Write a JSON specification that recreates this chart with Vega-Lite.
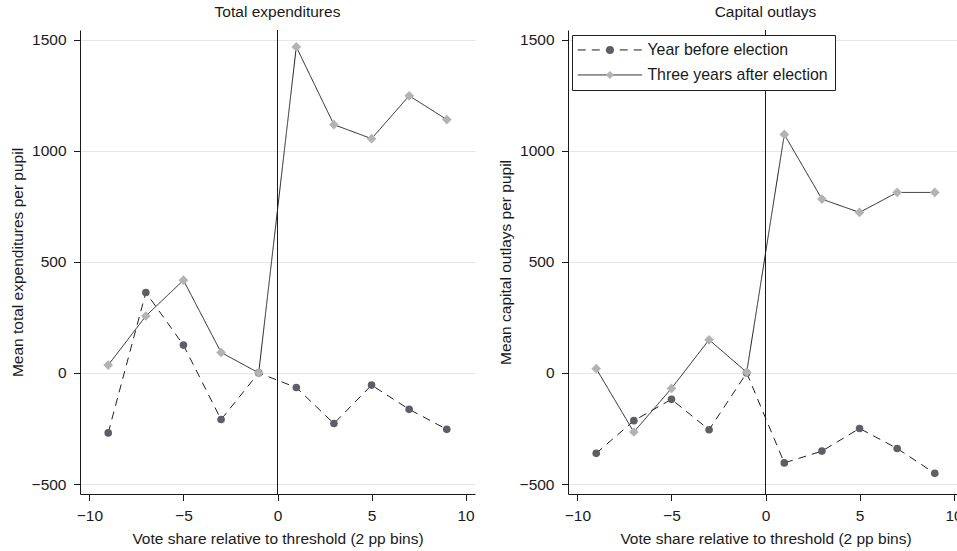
{
  "$schema": "https://vega.github.io/schema/vega-lite/v6.json",
  "padding": {"left": 10, "top": 5, "right": 0, "bottom": 0},
  "background": "white",
  "datasets": {
    "exp": [
      {"bin": -9, "value": -270, "series": "Year before election"},
      {"bin": -7, "value": 362, "series": "Year before election"},
      {"bin": -5, "value": 125, "series": "Year before election"},
      {"bin": -3, "value": -210, "series": "Year before election"},
      {"bin": -1, "value": 0, "series": "Year before election"},
      {"bin": 1, "value": -66, "series": "Year before election"},
      {"bin": 3, "value": -228, "series": "Year before election"},
      {"bin": 5, "value": -55, "series": "Year before election"},
      {"bin": 7, "value": -164, "series": "Year before election"},
      {"bin": 9, "value": -254, "series": "Year before election"},
      {"bin": -9, "value": 35, "series": "Three years after election"},
      {"bin": -7, "value": 256, "series": "Three years after election"},
      {"bin": -5, "value": 417, "series": "Three years after election"},
      {"bin": -3, "value": 92, "series": "Three years after election"},
      {"bin": -1, "value": 0, "series": "Three years after election"},
      {"bin": 1, "value": 1467, "series": "Three years after election"},
      {"bin": 3, "value": 1117, "series": "Three years after election"},
      {"bin": 5, "value": 1054, "series": "Three years after election"},
      {"bin": 7, "value": 1247, "series": "Three years after election"},
      {"bin": 9, "value": 1140, "series": "Three years after election"}
    ],
    "cap": [
      {"bin": -9, "value": -362, "series": "Year before election"},
      {"bin": -7, "value": -215, "series": "Year before election"},
      {"bin": -5, "value": -119, "series": "Year before election"},
      {"bin": -3, "value": -256, "series": "Year before election"},
      {"bin": -1, "value": 0, "series": "Year before election"},
      {"bin": 1, "value": -405, "series": "Year before election"},
      {"bin": 3, "value": -352, "series": "Year before election"},
      {"bin": 5, "value": -250, "series": "Year before election"},
      {"bin": 7, "value": -340, "series": "Year before election"},
      {"bin": 9, "value": -452, "series": "Year before election"},
      {"bin": -9, "value": 19, "series": "Three years after election"},
      {"bin": -7, "value": -266, "series": "Three years after election"},
      {"bin": -5, "value": -70, "series": "Three years after election"},
      {"bin": -3, "value": 149, "series": "Three years after election"},
      {"bin": -1, "value": 3, "series": "Three years after election"},
      {"bin": 1, "value": 1073, "series": "Three years after election"},
      {"bin": 3, "value": 782, "series": "Three years after election"},
      {"bin": 5, "value": 722, "series": "Three years after election"},
      {"bin": 7, "value": 812, "series": "Three years after election"},
      {"bin": 9, "value": 812, "series": "Three years after election"}
    ]
  },
  "config": {
    "font": "Liberation Sans",
    "view": {"stroke": null},
    "title": {"font": "Liberation Sans", "fontSize": 15.5, "fontWeight": "normal", "color": "#1a1a1a", "offset": 9},
    "axis": {
      "labelFont": "Liberation Sans", "titleFont": "Liberation Sans",
      "labelFontSize": 15.5, "titleFontSize": 15.5, "titleFontWeight": "normal",
      "labelColor": "#1a1a1a", "titleColor": "#1a1a1a",
      "domainColor": "#1a1a1a", "tickColor": "#1a1a1a",
      "tickSize": 6.5, "labelPadding": 7.5, "gridColor": "#e6e6e6",
      "labelFlush": false, "format": "d"
    },
    "axisX": {"grid": false, "titlePadding": 8},
    "axisY": {"grid": true, "titlePadding": 6},
    "legend": {"labelFont": "Liberation Sans", "labelLimit": 0}
  },
  "spacing": 23,
  "resolve": {
    "scale": {"color": "independent", "shape": "independent", "strokeDash": "independent"},
    "legend": {"color": "independent", "shape": "independent", "strokeDash": "independent"}
  },
  "hconcat": [
    {
      "width": 395,
      "height": 464,
      "title": "Total expenditures",
      "data": {"name": "exp"},
      "encoding": {
        "x": {"field": "bin", "type": "quantitative", "scale": {"domain": [-10.5, 10.5], "nice": false, "zero": false}, "axis": {"values": [-10, -5, 0, 5, 10], "title": "Vote share relative to threshold (2 pp bins)"}},
        "y": {"field": "value", "type": "quantitative", "scale": {"domain": [-545, 1543], "nice": false, "zero": false}, "axis": {"values": [-500, 0, 500, 1000, 1500], "title": "Mean total expenditures per pupil"}}
      },
      "layer": [
        {"mark": {"type": "rule", "color": "#1a1a1a", "strokeWidth": 1}, "encoding": {"x": {"datum": 0}, "y": null}},
        {"mark": {"type": "line", "color": "#1f1f1f", "strokeWidth": 1},
         "encoding": {"strokeDash": {"field": "series", "type": "nominal", "sort": "descending", "scale": {"range": [[8, 6], [1, 0]]}, "legend": null}}},
        {"transform": [{"filter": "datum.series == 'Year before election'"}],
         "mark": {"type": "point", "filled": true, "opacity": 1, "strokeWidth": 0, "size": 58},
         "encoding": {
           "shape": {"field": "series", "type": "nominal", "scale": {"domain": ["Year before election", "Three years after election"], "range": ["circle", "diamond"]}, "legend": null},
           "color": {"field": "series", "type": "nominal", "scale": {"domain": ["Year before election", "Three years after election"], "range": ["#5e5f66", "#b3b3b3"]}, "legend": null}
         }},
        {"transform": [{"filter": "datum.series == 'Three years after election'"}],
         "mark": {"type": "point", "filled": true, "opacity": 1, "strokeWidth": 0, "size": 95},
         "encoding": {
           "shape": {"field": "series", "type": "nominal", "scale": {"domain": ["Year before election", "Three years after election"], "range": ["circle", "diamond"]}, "legend": null},
           "color": {"field": "series", "type": "nominal", "scale": {"domain": ["Year before election", "Three years after election"], "range": ["#5e5f66", "#b3b3b3"]}, "legend": null}
         }}
      ]
    },
    {
      "width": 395,
      "height": 464,
      "title": "Capital outlays",
      "data": {"name": "cap"},
      "encoding": {
        "x": {"field": "bin", "type": "quantitative", "scale": {"domain": [-10.5, 10.5], "nice": false, "zero": false}, "axis": {"values": [-10, -5, 0, 5, 10], "title": "Vote share relative to threshold (2 pp bins)"}},
        "y": {"field": "value", "type": "quantitative", "scale": {"domain": [-545, 1543], "nice": false, "zero": false}, "axis": {"values": [-500, 0, 500, 1000, 1500], "title": "Mean capital outlays per pupil"}}
      },
      "layer": [
        {"mark": {"type": "rule", "color": "#1a1a1a", "strokeWidth": 1}, "encoding": {"x": {"datum": 0}, "y": null}},
        {"mark": {"type": "line", "color": "#1f1f1f", "strokeWidth": 1},
         "encoding": {"strokeDash": {"field": "series", "type": "nominal", "sort": "descending", "scale": {"range": [[8, 6], [1, 0]]},
           "legend": {"orient": "none", "legendX": 4, "legendY": 5, "title": null, "padding": 7, "rowPadding": 8, "symbolType": "M-6.44,0L6.44,0", "symbolSize": 100, "symbolStrokeWidth": 1, "symbolStrokeColor": "#1f1f1f", "symbolOffset": 23, "labelOffset": 29.5, "labelFontSize": 15.9, "labelColor": "#1a1a1a", "strokeColor": "#1f1f1f", "fillColor": "white"}}}},
        {"transform": [{"filter": "datum.series == 'Year before election'"}],
         "mark": {"type": "point", "filled": true, "opacity": 1, "strokeWidth": 0, "size": 58},
         "encoding": {
           "shape": {"field": "series", "type": "nominal", "scale": {"domain": ["Year before election", "Three years after election"], "range": ["circle", "diamond"]},
             "legend": {"orient": "none", "legendX": 4, "legendY": 5, "title": null, "padding": 7, "rowPadding": 8, "symbolSize": 64, "symbolStrokeWidth": 0, "symbolOffset": 23, "labelOffset": 29.5, "labelFontSize": 15.9, "labelOpacity": 0, "symbolOpacity": 1}},
           "color": {"field": "series", "type": "nominal", "scale": {"domain": ["Year before election", "Three years after election"], "range": ["#5e5f66", "#b3b3b3"]},
             "legend": {"orient": "none", "legendX": 4, "legendY": 5, "title": null, "padding": 7, "rowPadding": 8, "symbolSize": 64, "symbolStrokeWidth": 0, "symbolOffset": 23, "labelOffset": 29.5, "labelFontSize": 15.9, "labelOpacity": 0, "symbolOpacity": 1}}
         }},
        {"transform": [{"filter": "datum.series == 'Three years after election'"}],
         "mark": {"type": "point", "filled": true, "opacity": 1, "strokeWidth": 0, "size": 95},
         "encoding": {
           "shape": {"field": "series", "type": "nominal", "scale": {"domain": ["Year before election", "Three years after election"], "range": ["circle", "diamond"]},
             "legend": {"orient": "none", "legendX": 4, "legendY": 5, "title": null, "padding": 7, "rowPadding": 8, "symbolSize": 64, "symbolStrokeWidth": 0, "symbolOffset": 23, "labelOffset": 29.5, "labelFontSize": 15.9, "labelOpacity": 0, "symbolOpacity": 1}},
           "color": {"field": "series", "type": "nominal", "scale": {"domain": ["Year before election", "Three years after election"], "range": ["#5e5f66", "#b3b3b3"]},
             "legend": {"orient": "none", "legendX": 4, "legendY": 5, "title": null, "padding": 7, "rowPadding": 8, "symbolSize": 64, "symbolStrokeWidth": 0, "symbolOffset": 23, "labelOffset": 29.5, "labelFontSize": 15.9, "labelOpacity": 0, "symbolOpacity": 1}}
         }}
      ]
    }
  ]
}
